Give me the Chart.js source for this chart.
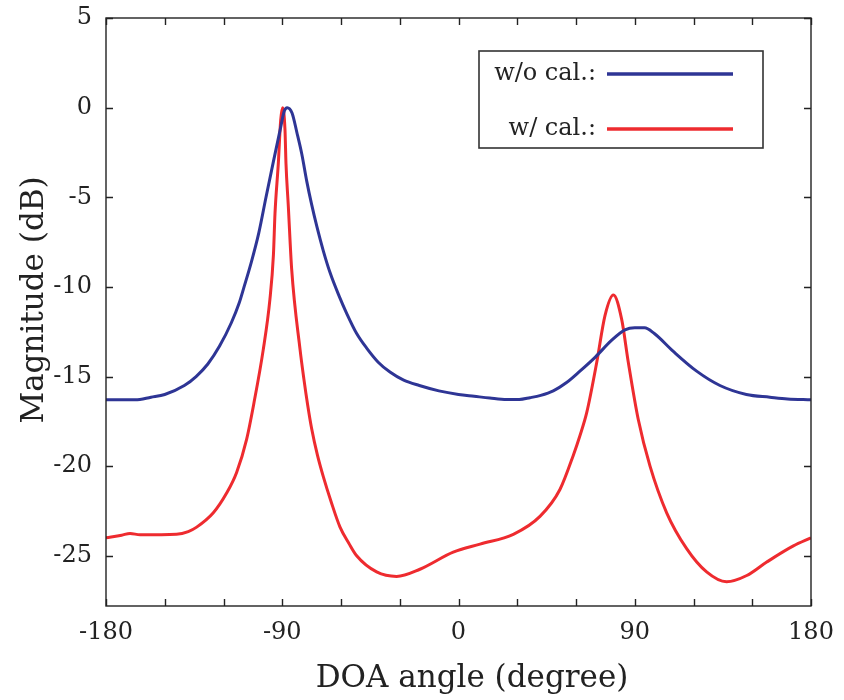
<!DOCTYPE html>
<html>
<head>
<meta charset="utf-8">
<script src="https://cdn.jsdelivr.net/npm/chart.js@4.4.1/dist/chart.umd.min.js"></script>
<style>
  html, body { margin: 0; padding: 0; background: #fff; }
  canvas { display: block; }
</style>
</head>
<body>
<canvas id="chart" width="844" height="700"></canvas>
<script>
'use strict';

// values
const woCalAngle = [-180, -165, -157, -150, -140, -134, -128, -122, -116, -112, -109.5, -106, -102, -98.3, -94.5, -91, -89, -87.5, -85, -82.5, -80, -77.5, -75, -72.4, -69, -65.6, -61, -57, -52, -47, -41, -35, -28, -20, -10, 0, 8, 16, 24.6, 31, 36.5, 42, 48.4, 55, 62, 70, 78, 85, 90, 95, 100, 109.7, 121.6, 133.5, 147, 159, 168, 180];
const woCalMag = [-16.3, -16.3, -16.15, -16.0, -15.5, -15.0, -14.3, -13.3, -12.0, -10.9, -10.0, -8.7, -7.0, -5.0, -3.0, -1.2, -0.2, 0, -0.3, -1.4, -2.6, -4.1, -5.4, -6.6, -8.0, -9.2, -10.5, -11.5, -12.6, -13.4, -14.2, -14.75, -15.2, -15.5, -15.8, -16.0, -16.1, -16.2, -16.28, -16.28, -16.18, -16.05, -15.8, -15.35, -14.7, -13.9, -13.0, -12.4, -12.28, -12.28, -12.6, -13.6, -14.7, -15.5, -16.0, -16.15, -16.25, -16.3];

const wCalAngle = [-180, -172, -167.7, -162.6, -144, -138, -133.7, -125.2, -118.4, -113.3, -108.2, -104.5, -99.7, -96.3, -94.5, -93.7, -92, -90.8, -89.8, -88.6, -88.1, -86.9, -85.2, -80.9, -79, -77, -75, -72, -69, -65, -60.5, -56, -52, -41.8, -31.6, -19.7, -2.7, 11, 28, 41.6, 51.8, 58.6, 62, 65.5, 70.6, 74.8, 79.1, 83.3, 86.7, 91.8, 97.8, 106.3, 116.5, 126.7, 136.9, 147.2, 157.4, 171, 180];
const wCalMag = [-24.0, -23.85, -23.75, -23.83, -23.8, -23.65, -23.4, -22.6, -21.5, -20.35, -18.5, -16.5, -13.5, -10.7, -8.2, -5.9, -3.1, -0.7, 0, -1.24, -3.1, -5.5, -9.0, -13.5, -15.1, -16.6, -17.9, -19.4, -20.6, -22.0, -23.4, -24.3, -25.0, -25.9, -26.15, -25.75, -24.8, -24.35, -23.8, -22.8, -21.3, -19.4, -18.3, -17.0, -14.2, -11.6, -10.45, -11.8, -14.2, -17.4, -20.0, -22.6, -24.6, -25.9, -26.45, -26.1, -25.35, -24.45, -24.0];

const xLabelValues = [-180, -90, 0, 90, 180];
const seriesLabels = ['w/o cal.:', 'w/ cal.:'];
const seriesColors = ['#2e3595', '#ee2b2f'];
const xTitle = 'DOA angle (degree)';
const yTitle = 'Magnitude (dB)';

function toPoints(xs, ys) {
  return xs.map((x, i) => ({x: x, y: ys[i]}));
}

Chart.defaults.font.family = '"DejaVu Serif", serif';
Chart.defaults.color = '#222';

// box with inward ticks on all four sides, plus the axis titles
const frameTicks = {
  id: 'frameTicks',
  afterDatasetsDraw(chart) {
    const {ctx, chartArea: a, scales} = chart;
    const len = 7;
    ctx.save();
    ctx.strokeStyle = '#222';
    ctx.lineWidth = 1.4;
    ctx.strokeRect(a.left, a.top, a.right - a.left, a.bottom - a.top);
    ctx.beginPath();
    scales.x.ticks.forEach(t => {
      const px = Math.round(scales.x.getPixelForValue(t.value)) + 0.5;
      ctx.moveTo(px, a.bottom); ctx.lineTo(px, a.bottom - len);
      ctx.moveTo(px, a.top); ctx.lineTo(px, a.top + len);
    });
    scales.y.ticks.forEach(t => {
      const py = Math.round(scales.y.getPixelForValue(t.value)) + 0.5;
      ctx.moveTo(a.left, py); ctx.lineTo(a.left + len, py);
      ctx.moveTo(a.right, py); ctx.lineTo(a.right - len, py);
    });
    ctx.stroke();

    ctx.fillStyle = '#222';
    ctx.font = '31px "DejaVu Serif", serif';
    ctx.textAlign = 'center';
    ctx.textBaseline = 'alphabetic';
    ctx.fillText(xTitle, 472, 687);
    ctx.translate(43, 300);
    ctx.rotate(-Math.PI / 2);
    ctx.fillText(yTitle, 0, 0);
    ctx.restore();
  }
};

// legend: label text, then a line sample, inside a box
const boxLegend = {
  id: 'boxLegend',
  afterDraw(chart) {
    const {ctx} = chart;
    ctx.save();
    ctx.strokeStyle = '#333';
    ctx.lineWidth = 1.6;
    ctx.strokeRect(479, 51, 284, 97);
    ctx.font = '24px "DejaVu Serif", serif';
    ctx.fillStyle = '#222';
    ctx.textAlign = 'right';
    ctx.textBaseline = 'middle';
    const rows = [74, 129];
    chart.data.datasets.forEach((ds, i) => {
      ctx.fillText(ds.label, 596, rows[i]);
      ctx.strokeStyle = ds.borderColor;
      ctx.lineWidth = 3.5;
      ctx.beginPath();
      ctx.moveTo(607, rows[i]);
      ctx.lineTo(733, rows[i]);
      ctx.stroke();
    });
    ctx.restore();
  }
};

new Chart(document.getElementById('chart'), {
  type: 'line',
  data: {
    datasets: [{
      label: seriesLabels[0],
      data: toPoints(woCalAngle, woCalMag),
      borderColor: seriesColors[0],
      borderWidth: 3,
      pointRadius: 0,
      cubicInterpolationMode: 'monotone',
    }, {
      label: seriesLabels[1],
      data: toPoints(wCalAngle, wCalMag),
      borderColor: seriesColors[1],
      borderWidth: 3,
      pointRadius: 0,
      cubicInterpolationMode: 'monotone',
    }]
  },
  options: {
    responsive: false,
    animation: false,
    layout: {
      padding: {top: 18, right: 33, left: 0, bottom: 0}
    },
    plugins: {
      legend: {display: false},
      tooltip: {enabled: false}
    },
    scales: {
      x: {
        type: 'linear',
        min: -180,
        max: 180,
        grid: {display: false, drawTicks: false},
        border: {display: false},
        afterFit: (scale) => {
          scale.height = 94;
          scale.paddingLeft = 0;
          scale.paddingRight = 0;
        },
        ticks: {
          stepSize: 30,
          autoSkip: false,
          maxRotation: 0,
          padding: 12,
          font: {size: 24},
          callback: (v) => xLabelValues.includes(v) ? String(v) : ''
        }
      },
      y: {
        min: -27.8,
        max: 5,
        grid: {display: false, drawTicks: false},
        border: {display: false},
        afterFit: (scale) => {
          scale.width = 106;
          scale.paddingTop = 0;
          scale.paddingBottom = 0;
        },
        ticks: {
          stepSize: 5,
          includeBounds: false,
          padding: 14,
          font: {size: 24}
        }
      }
    }
  },
  plugins: [frameTicks, boxLegend]
});
</script>
</body>
</html>
